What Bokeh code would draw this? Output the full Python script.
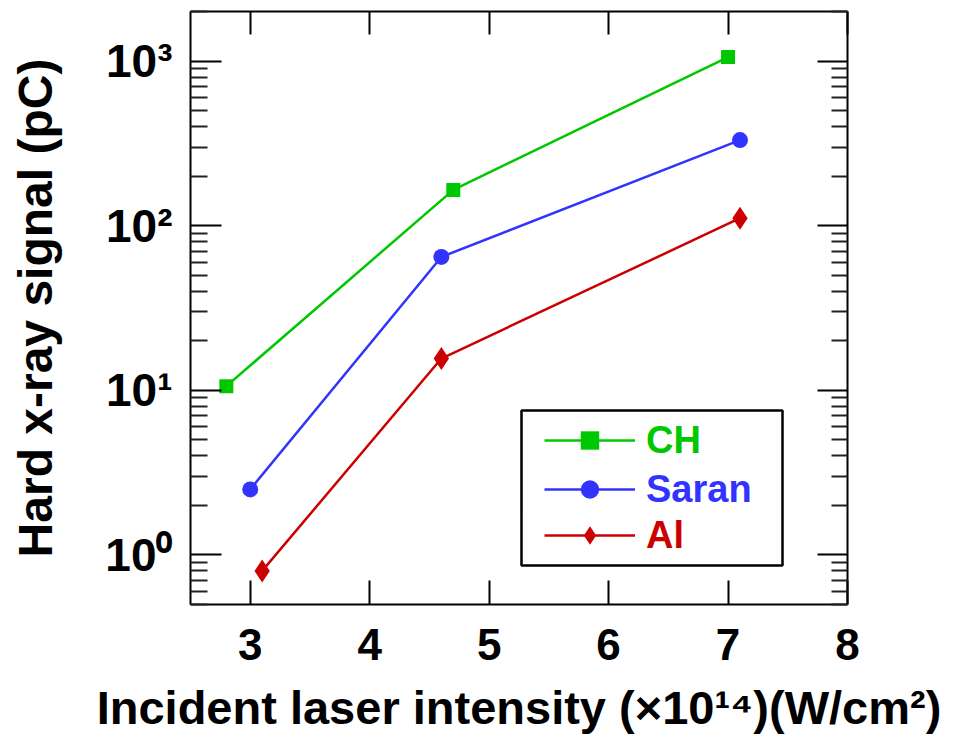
from bokeh.plotting import figure
from bokeh.models import (Range1d, LinearAxis, LogAxis, FixedTicker,
                          Legend, LegendItem, BoxAnnotation, CustomJSTickFormatter)
from bokeh.embed import file_html
from bokeh.resources import INLINE

# ---- data ----
ch_x = [2.8, 4.7, 7.0]
ch_y = [10.6, 165, 1057]
saran_x = [3.0, 4.6, 7.1]
saran_y = [2.5, 64.6, 331]
al_x = [3.1, 4.6, 7.1]
al_y = [0.8, 15.6, 111]

x_ticks = [3, 4, 5, 6, 7, 8]
y_ticks = [1, 10, 100, 1000]
y_tick_labels = ["10\u2070", "10\u00b9", "10\u00b2", "10\u00b3"]

series_names = ["CH", "Saran", "Al"]
series_colors = ["#00C800", "#3333FF", "#CC0000"]

FONT = "Liberation Sans"

p = figure(width=954, height=736, output_backend="svg", toolbar_location=None,
           x_range=Range1d(2.5, 8.0), y_range=Range1d(0.5, 2000),
           y_axis_type="log", x_axis_location=None, y_axis_location=None,
           min_border_left=190, min_border_right=107, min_border_top=11,
           min_border_bottom=132)
p.outline_line_color = None
p.grid.visible = False
p.background_fill_color = "white"
p.border_fill_color = "white"

minor_y = [m * 10 ** k for k in range(-1, 4) for m in range(2, 10)]
minor_y = [v for v in minor_y if 0.5 <= v <= 2000]
yticker = FixedTicker(ticks=y_ticks, minor_ticks=minor_y)
xticker = FixedTicker(ticks=x_ticks, minor_ticks=[])
blank = CustomJSTickFormatter(code="return ''")


def style_axis(ax, tick_in, minor_in):
    ax.axis_line_width = 2
    ax.axis_line_color = "black"
    ax.major_tick_line_width = 2
    ax.major_tick_line_color = "black"
    ax.major_tick_in = tick_in
    ax.major_tick_out = 0
    ax.minor_tick_line_width = 2
    ax.minor_tick_line_color = "#222222"
    ax.minor_tick_in = minor_in
    ax.minor_tick_out = 0
    ax.major_label_text_font = FONT
    ax.major_label_text_font_style = "bold"
    ax.major_label_text_font_size = "44px"
    ax.major_label_text_color = "black"
    ax.axis_label_text_font = FONT
    ax.axis_label_text_font_style = "bold"
    ax.axis_label_text_font_size = "48px"
    ax.axis_label_text_color = "black"


xb = LinearAxis(ticker=xticker,
                axis_label="Incident laser intensity (\u00d710\u00b9\u2074)(W/cm\u00b2)")
style_axis(xb, 24, 0)
xb.axis_label_text_font_size = "47px"
xb.major_label_standoff = 24
xb.axis_label_standoff = 18
p.add_layout(xb, "below")

xt = LinearAxis(ticker=xticker, formatter=blank)
style_axis(xt, 23, 0)
xt.major_label_standoff = 0
p.add_layout(xt, "above")

yl = LogAxis(ticker=yticker, axis_label="Hard x-ray signal (pC)",
             major_label_overrides={t: s for t, s in zip(y_ticks, y_tick_labels)})
style_axis(yl, 31, 17)
yl.major_label_text_font_size = "46px"
yl.major_label_standoff = 18
yl.axis_label_standoff = 40
p.add_layout(yl, "left")

yr = LogAxis(ticker=yticker, formatter=blank)
style_axis(yr, 30, 16)
yr.major_label_standoff = 0
p.add_layout(yr, "right")

# ---- series ----
ch_line = p.line(ch_x, ch_y, line_color=series_colors[0], line_width=2.5)
ch_pts = p.scatter(ch_x, ch_y, marker="square", size=14, fill_color=series_colors[0],
                   line_color=None)
sa_line = p.line(saran_x, saran_y, line_color=series_colors[1], line_width=2.5)
sa_pts = p.scatter(saran_x, saran_y, marker="circle", size=16, fill_color=series_colors[1],
                   line_color=None)
al_line = p.line(al_x, al_y, line_color=series_colors[2], line_width=2.5)
al_pts = p.scatter(al_x, al_y, marker="diamond", size=23,
                   fill_color=series_colors[2], line_color=None)

# ---- legend box ----
box = BoxAnnotation(left=331, right=592, bottom=39, top=194,
                    left_units="screen", right_units="screen",
                    bottom_units="screen", top_units="screen",
                    fill_color="white", fill_alpha=1.0,
                    line_color="black", line_alpha=1.0, line_width=2.5,
                    level="annotation")
p.add_layout(box)

leg_positions = [(354, 141), (354, 92), (354, 46)]
leg_renderers = [[ch_line, ch_pts], [sa_line, sa_pts], [al_line, al_pts]]
for name, col, pos, rends in zip(series_names, series_colors, leg_positions, leg_renderers):
    lg = Legend(items=[LegendItem(label=name, renderers=rends)], location=pos,
                border_line_color=None, background_fill_alpha=0,
                padding=0, margin=0, spacing=0,
                glyph_width=91, glyph_height=46, label_height=46,
                label_standoff=11,
                label_text_font=FONT, label_text_font_style="bold",
                label_text_font_size="38px", label_text_color=col)
    p.add_layout(lg)

open("out.html", "w").write(file_html(p, INLINE))
